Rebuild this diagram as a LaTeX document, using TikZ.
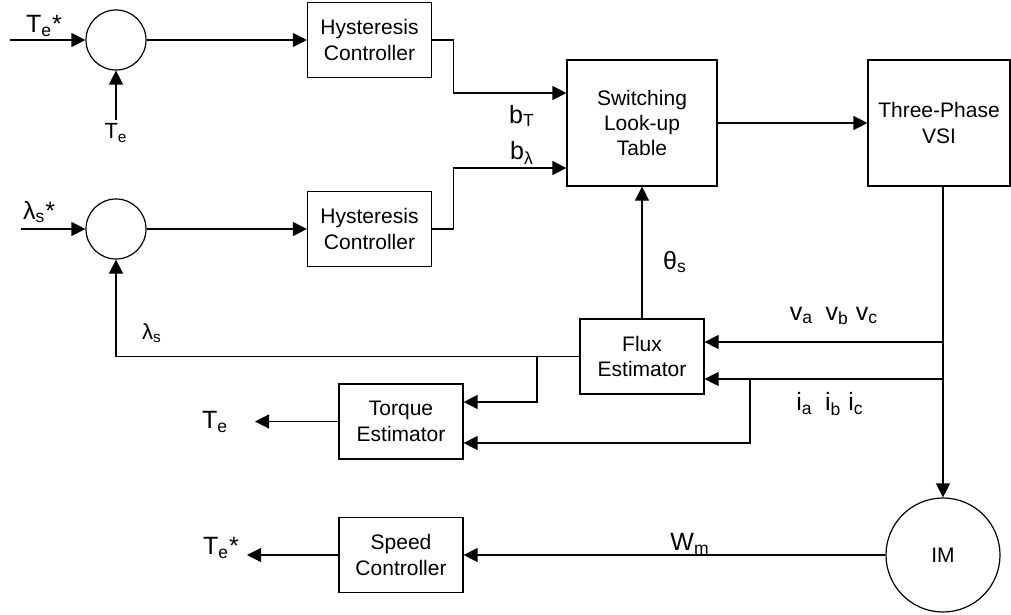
\documentclass[tikz,border=0pt]{standalone}
\usepackage{fontspec}
\setmainfont{Liberation Sans}
\usetikzlibrary{calc,arrows.meta,positioning}
\newcommand{\subl}[2]{#1\textsubscript{#2}}
\begin{document}
\begin{tikzpicture}[x=0.5pt, y=-0.5pt,
  box/.style={draw, line width=0.6pt, minimum width=62pt, minimum height=37.5pt, align=center, inner sep=1pt, font=\fontsize{10.5}{12.7}\selectfont},
  sum/.style={draw, line width=0.6pt, circle, minimum size=30pt, inner sep=0pt},
  lab/.style={inner sep=0pt, font=\fontsize{12.5}{14}\selectfont},
  labs/.style={inner sep=0pt, font=\fontsize{11}{13}\selectfont},
  arr/.style={-{Triangle[length=7pt, width=7pt]}, line width=0.6pt}
]
\useasboundingbox (0,0) rectangle (1011,615);
% summing junctions and controllers
\node[sum] (sumT) at (116,40) {};
\node[sum] (sumL) at (116,229) {};
\node[box] (hysT) at (369.5,40) {Hysteresis\\Controller};
\node[box] (hysL) at (369.5,229) {Hysteresis\\Controller};
\node[box, minimum width=75pt, minimum height=63pt] (slt) at (642,123) {Switching\\Look-up\\Table};
\node[box, minimum width=71pt, minimum height=63pt] (vsi) at (939,123) {Three-Phase\\VSI};
\node[box] (flux) at (642,356.5) {Flux\\Estimator};
\node[box] (torque) at (401,421.5) {Torque\\Estimator};
\node[box] (speed) at (401,555) {Speed\\Controller};
\node[sum, minimum size=57pt, font=\fontsize{10.5}{12.7}\selectfont] (im) at (943,555) {IM};
% free ends and taps
\coordinate (inT) at (10,40);
\coordinate (inL) at (21,229);
\coordinate (teIn) at (116,120);
\coordinate (teOut) at (255,421.5);
\coordinate (teRef) at (247,555);
\coordinate (vtap) at (943,342);
\coordinate (itap) at (943,379);
\coordinate (ibr) at (750,379);
\coordinate (lbr) at (537,356.5);
% connectors
\draw[arr] (inT) -- (sumT);
\draw[arr] (teIn) -- (sumT);
\draw[arr] (sumT) -- (hysT);
\draw[arr] (inL) -- (sumL);
\draw[arr] (sumL) -- (hysL);
\draw[arr] (hysT.east) -- ++(21,0) |- ([yshift=15pt]slt.west);
\draw[arr] (hysL.east) -- ++(21,0) |- ([yshift=-22.5pt]slt.west);
\draw[arr] (slt) -- (vsi);
\draw[arr] (vsi.south -| im.north) -- (im);
\draw[arr] (flux) -- (slt);
\draw[arr] (vtap) -- (vtap -| flux.east);
\draw[arr] (itap) -- (itap -| flux.east);
\draw[arr] (ibr) |- ([yshift=-10.75pt]torque.east);
\draw[arr] (flux.west) -| (sumL.south);
\draw[arr] (lbr) |- ([yshift=9.75pt]torque.east);
\draw[arr] (torque) -- (teOut);
\draw[arr] (im) -- (speed);
\draw[arr] (speed) -- (teRef);
% labels
\node[lab] at (44,26) {\subl{T}{e}*};
\node[labs] at (116,133) {\subl{T}{e}};
\node[lab] at (39,212) {\subl{λ}{s}*};
\node[labs] at (152,333) {\subl{λ}{s}};
\node[lab] at (522,116) {\subl{b}{T}};
\node[lab] at (522,153) {\subl{b}{λ}};
\node[lab] at (675,262) {\subl{θ}{s}};
\node[lab] at (834,316) {\subl{v}{a}\enspace\subl{v}{b} \subl{v}{c}};
\node[lab] at (830,404) {\subl{i}{a}\enspace\subl{i}{b} \subl{i}{c}};
\node[lab] at (215,422) {\subl{T}{e}};
\node[lab] at (221,548) {\subl{T}{e}*};
\node[lab] at (690,544) {\subl{W}{m}};
\end{tikzpicture}
\end{document}
